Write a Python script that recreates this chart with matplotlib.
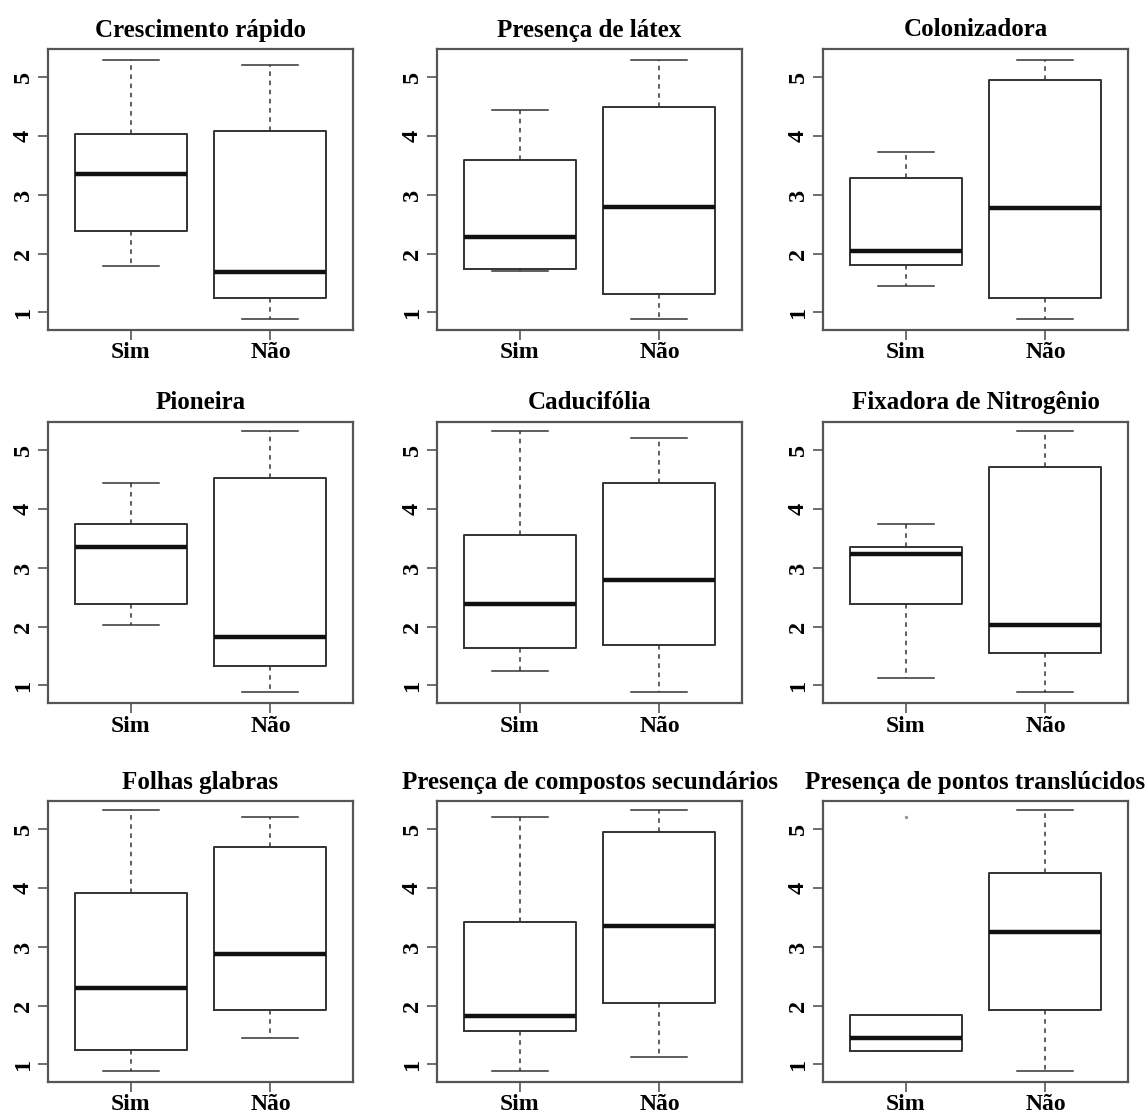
import numpy as np
import matplotlib.pyplot as plt

plt.rcParams['font.family'] = ['Liberation Serif', 'DejaVu Serif']
plt.rcParams['font.weight'] = 'bold'

titles = ['Crescimento rápido', 'Presença de látex', 'Colonizadora',
          'Pioneira', 'Caducifólia', 'Fixadora de Nitrogênio',
          'Folhas glabras', 'Presença de compostos secundários',
          'Presença de pontos translúcidos']
groups = ['Sim', 'Não']

# [Sim, Não] for each panel
whislo = [[1.79, 0.88], [1.70, 0.88], [1.44, 0.88],
          [2.02, 0.88], [1.24, 0.88], [1.13, 0.88],
          [0.89, 1.44], [0.89, 1.13], [1.23, 0.89]]
q1 = [[2.39, 1.25], [1.73, 1.32], [1.80, 1.25],
      [2.38, 1.33], [1.64, 1.68], [2.38, 1.55],
      [1.24, 1.93], [1.56, 2.04], [1.23, 1.92]]
med = [[3.35, 1.69], [2.29, 2.80], [2.05, 2.78],
       [3.35, 1.82], [2.38, 2.79], [3.24, 2.03],
       [2.30, 2.87], [1.82, 3.35], [1.45, 3.25]]
q3 = [[4.03, 4.09], [3.60, 4.50], [3.29, 4.95],
      [3.75, 4.52], [3.56, 4.44], [3.35, 4.71],
      [3.91, 4.70], [3.42, 4.96], [1.84, 4.26]]
whishi = [[5.30, 5.20], [4.44, 5.30], [3.73, 5.30],
          [4.44, 5.32], [5.32, 5.20], [3.75, 5.32],
          [5.32, 5.20], [5.20, 5.32], [1.84, 5.32]]
outliers = [[[], []], [[], []], [[], []],
            [[], []], [[], []], [[], []],
            [[], []], [[], []], [[5.20], []]]

fig = plt.figure(figsize=(11.45, 11.15), dpi=100)
W, H = 1145, 1115
lefts = [48, 437, 823]
tops = [49, 422, 801]
aw, ah = 305, 281

frame = '#555555'
for i in range(9):
    r, c = divmod(i, 3)
    ax = fig.add_axes([lefts[c] / W, 1 - (tops[r] + ah) / H, aw / W, ah / H])
    stats = []
    for g in range(2):
        stats.append(dict(whislo=whislo[i][g], q1=q1[i][g], med=med[i][g],
                          q3=q3[i][g], whishi=whishi[i][g],
                          fliers=outliers[i][g], label=groups[g]))
    ax.bxp(stats, positions=[1, 2], widths=0.8, showfliers=True,
           boxprops=dict(color='#333333', linewidth=1.4),
           medianprops=dict(color='#111111', linewidth=3.2),
           whiskerprops=dict(color='#333333', linewidth=1.1, linestyle=(0, (3, 3))),
           capprops=dict(color='#333333', linewidth=1.1),
           capwidths=0.4,
           flierprops=dict(marker='.', markersize=3, markerfacecolor='#999999',
                           markeredgecolor='#999999'))
    ax.set_xlim(0.41, 2.59)
    ax.set_ylim(0.70, 5.48)
    ax.set_yticks([1, 2, 3, 4, 5])
    ax.set_yticklabels(['1', '2', '3', '4', '5'], rotation=90, va='center',
                       fontsize=17.5, fontweight='bold')
    ax.set_xticks([1, 2])
    ax.set_xticklabels(groups, fontsize=17, fontweight='bold')
    ax.tick_params(axis='both', length=7, width=1.2, color=frame, pad=3)
    ax.tick_params(axis='x', pad=2)
    for s in ax.spines.values():
        s.set_color(frame)
        s.set_linewidth(1.6)
    ax.set_title(titles[i], fontsize=18, fontweight='bold', pad=9)

fig.savefig('out.png', dpi=100)
